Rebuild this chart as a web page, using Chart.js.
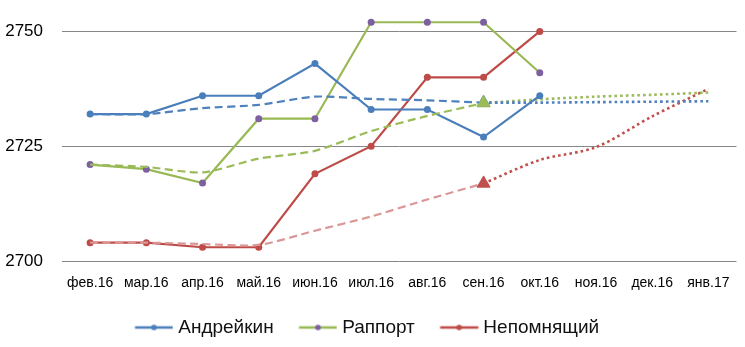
<!DOCTYPE html>
<html>
<head>
<meta charset="utf-8">
<script src="https://cdn.jsdelivr.net/npm/chart.js@4.4.1/dist/chart.umd.min.js"></script>
<style>
  body { margin: 0; background: #fff; }
</style>
</head>
<body>
<canvas id="myChart" width="745" height="347"></canvas>
<script>
var months = ['фев.16', 'мар.16', 'апр.16', 'май.16', 'июн.16', 'июл.16',
    'авг.16', 'сен.16', 'окт.16', 'ноя.16', 'дек.16', 'янв.17'];
var yTicks = [2700, 2725, 2750];

// рейтинг по месяцам
var andreikin = [2732, 2732, 2736, 2736, 2743, 2733, 2733, 2727, 2736];
var rapport = [2721, 2720, 2717, 2731, 2731, 2752, 2752, 2752, 2741];
var nepomn = [2704, 2704, 2703, 2703, 2719, 2725, 2740, 2740, 2750];

// средние (пунктир) до сен.16
var andreikinAvg = [2732, 2732, 2733.3, 2734, 2735.8, 2735.3, 2735, 2734.5];
var rapportAvg = [2721, 2720.5, 2719.3, 2722.3, 2724, 2728.3, 2731.6, 2734.4];
var nepomnAvg = [2704, 2704, 2703.7, 2703.5, 2706.6, 2709.7, 2713.4, 2716.9];

// прогноз (точки) с сен.16 по янв.17
var andreikinFc = [null, null, null, null, null, null, null, 2734.5, 2734.5, 2734.6, 2734.7, 2734.8];
var rapportFc = [null, null, null, null, null, null, null, 2734.4, 2735.2, 2735.8, 2736.2, 2736.7];
var nepomnFc = [null, null, null, null, null, null, null, 2716.9, 2722, 2724.8, 2731.5, 2737.5];

var blue = '#4A7EBB', green = '#98B954', red = '#BE4B48', purple = '#7D60A0';
var fontFamily = '"Liberation Sans", Arial, sans-serif';

// значок легенды: отрезок линии с точкой
function legendMark(lineColor, dotColor) {
    var c = document.createElement('canvas');
    c.width = 43; c.height = 10;
    var g = c.getContext('2d');
    g.strokeStyle = lineColor;
    g.lineWidth = 2.5;
    g.beginPath(); g.moveTo(4.5, 5); g.lineTo(42.5, 5); g.stroke();
    g.fillStyle = dotColor;
    g.beginPath(); g.arc(23.5, 5, 2.8, 0, Math.PI * 2); g.fill();
    return c;
}
var legendMarks = [legendMark(blue, blue), legendMark(green, purple), legendMark(red, red)];

function mainLine(label, values, color, dot) {
    return {
        label: label, data: values, order: 1,
        borderColor: color, backgroundColor: dot, borderWidth: 2.2,
        pointRadius: 3.5, pointBackgroundColor: dot, pointBorderColor: dot,
        pointBorderWidth: 0, tension: 0
    };
}
function avgLine(values, color, pointColor) {
    var radii = values.map(function (v, i) { return i === values.length - 1 ? 7.5 : 0; });
    return {
        label: '', data: values, order: 0, borderColor: color, borderWidth: 2.2,
        borderDash: [8, 4.5], pointRadius: radii, pointStyle: 'triangle',
        pointBackgroundColor: pointColor, pointBorderColor: pointColor, pointBorderWidth: 1,
        tension: 0.25
    };
}
function forecastLine(values, color) {
    return {
        label: '', data: values, order: 2, borderColor: color, borderWidth: 2.6,
        borderDash: [2.6, 3.1], pointRadius: 0, tension: 0.3
    };
}

var datasets = [
    mainLine('Андрейкин', andreikin, blue, blue),
    mainLine('Раппорт', rapport, green, purple),
    mainLine('Непомнящий', nepomn, red, red),
    avgLine(rapportAvg, '#9BBB59', '#9BBB59'),
    avgLine(andreikinAvg, '#4F81BD', '#4F81BD'),
    avgLine(nepomnAvg, '#D99795', '#C0504D'),
    forecastLine(andreikinFc, '#4F81BD'),
    forecastLine(rapportFc, '#9BBB59'),
    forecastLine(nepomnFc, '#C0504D')
];

var ctx = document.getElementById('myChart').getContext('2d');
var myChart = new Chart(ctx, {
    type: 'line',
    data: { labels: months, datasets: datasets },
    options: {
        responsive: false,
        animation: false,
        events: [],
        layout: { padding: { top: 6, left: 0, right: 0, bottom: 0 } },
        plugins: {
            tooltip: { enabled: false },
            legend: {
                position: 'bottom',
                labels: {
                    generateLabels: function (chart) {
                        var items = Chart.defaults.plugins.legend.labels.generateLabels(chart);
                        return items.filter(function (it) { return it.datasetIndex < 3; })
                            .sort(function (a, b) { return a.datasetIndex - b.datasetIndex; })
                            .map(function (it) {
                                it.pointStyle = legendMarks[it.datasetIndex];
                                it.text = it.text + '\u00A0\u00A0'; // шире промежуток между пунктами
                                return it;
                            });
                    },
                    usePointStyle: true,
                    pointStyleWidth: 33.5,
                    padding: 15,
                    color: '#111',
                    font: { family: fontFamily, size: 19 }
                }
            }
        },
        scales: {
            x: {
                offset: true,
                grid: { display: false },
                border: { display: false },
                ticks: {
                    color: '#000', padding: 6, maxRotation: 0, autoSkip: false,
                    font: { family: fontFamily, size: 14 }
                },
                afterFit: function (scale) { scale.height = 42; }
            },
            y: {
                min: 2700,
                max: 2755,
                grid: { color: '#878787', lineWidth: 1, drawTicks: false },
                border: { display: false },
                ticks: {
                    color: '#000', padding: 19,
                    font: { family: fontFamily, size: 17 },
                    callback: function (v) { return String(v); }
                },
                afterBuildTicks: function (scale) {
                    scale.ticks = yTicks.map(function (v) { return { value: v }; });
                },
                afterFit: function (scale) {
                    scale.width = 62;
                    scale.paddingTop = 0;
                    scale.paddingBottom = 0;
                }
            }
        }
    }
});
</script>
</body>
</html>
